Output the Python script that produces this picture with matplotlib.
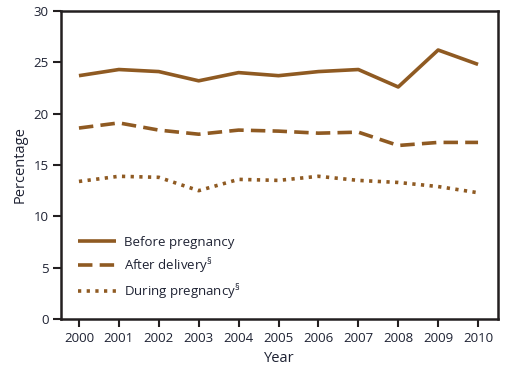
import matplotlib
matplotlib.use("Agg")
import matplotlib.pyplot as plt

years = [2000, 2001, 2002, 2003, 2004, 2005, 2006, 2007, 2008, 2009, 2010]
before = [23.7, 24.3, 24.1, 23.2, 24.0, 23.7, 24.1, 24.3, 22.6, 26.2, 24.8]
after = [18.6, 19.1, 18.4, 18.0, 18.4, 18.3, 18.1, 18.2, 16.9, 17.2, 17.2]
during = [13.4, 13.9, 13.8, 12.5, 13.6, 13.5, 13.9, 13.5, 13.3, 12.9, 12.3]
labels = ["Before pregnancy", "After delivery$^{\\S}$", "During pregnancy$^{\\S}$"]

plt.rcParams['font.family'] = ['Open Sans', 'DejaVu Sans']
plt.rcParams['mathtext.fontset'] = 'custom'
plt.rcParams['mathtext.rm'] = 'Open Sans'
text_color = '#1e2233'
col = '#8f5a22'

fig = plt.figure(figsize=(5.24, 3.70), dpi=100)
ax = fig.add_axes([61/524, 1 - 319/370, (498-61)/524, (319-11)/370])

lw = 2.6
ax.plot(years, before, color=col, lw=lw, solid_capstyle='butt', label=labels[0])
ax.plot(years, after, color=col, lw=lw, dashes=(4.0, 2.0), dash_capstyle='butt', label=labels[1])
ax.plot(years, during, color=col, lw=lw, dashes=(0.9, 1.5), dash_capstyle='butt', label=labels[2])

ax.set_xlim(1999.55, 2010.5)
ax.set_ylim(0, 30)
ax.set_xticks(years)
ax.set_yticks([0, 5, 10, 15, 20, 25, 30])
for s in ax.spines.values():
    s.set_linewidth(1.8)
    s.set_color('#231f20')
ax.tick_params(direction='out', length=6, width=1.5, colors='#231f20',
               labelcolor=text_color, labelsize=9.5, pad=3)
ax.set_xlabel('Year', fontsize=10.5, color=text_color, labelpad=5)
ax.set_ylabel('Percentage', fontsize=10.5, color=text_color, labelpad=4)

leg = ax.legend(loc='lower left', bbox_to_anchor=(0.012, 0.02), frameon=False,
                fontsize=9.5, handlelength=2.9, handletextpad=0.55, labelspacing=0.55,
                labelcolor=text_color)

fig.savefig('out.png', dpi=100)
